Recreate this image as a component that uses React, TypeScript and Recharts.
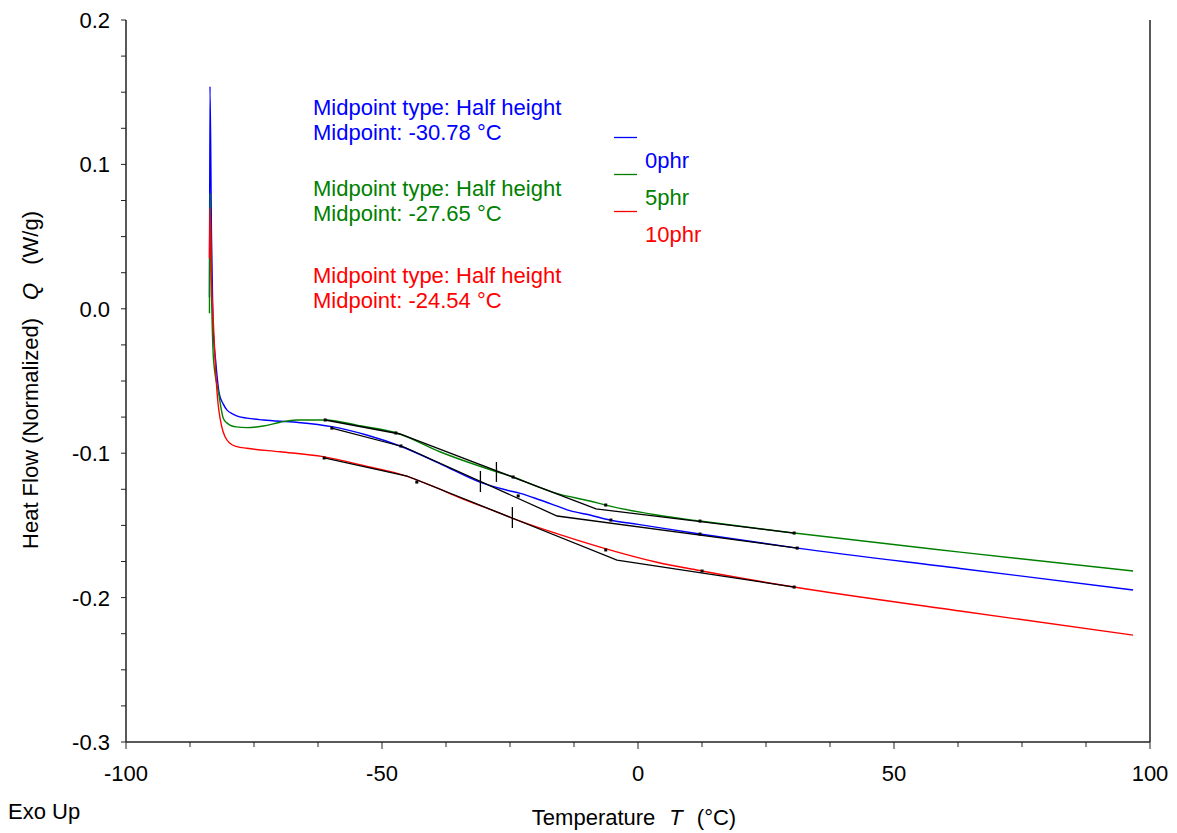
import React from "react";
import {ComposedChart, Label, Legend, Line, ReferenceLine, XAxis, YAxis} from "recharts";

// axis ticks
const X_MAJOR = [-100, -50, 0, 50, 100];
const X_MINOR = [-87.5, -75, -62.5, -37.5, -25, -12.5, 12.5, 25, 37.5, 62.5, 75, 87.5];
const Y_MAJOR = [-0.3, -0.2, -0.1, 0, 0.1, 0.2];
const Y_MINOR = [-0.275, -0.25, -0.225, -0.175, -0.15, -0.125, -0.075, -0.05, -0.025, 0.025, 0.05, 0.075, 0.125, 0.15, 0.175];

// DSC curves: temperature (°C) / heat flow (W/g)
const T_0PHR = [-83.7, -83.6, -83.3, -83.0, -82.5, -81.8, -81.0, -80.3, -79.2, -78.4, -76.4, -73.2, -66.7, -59.8, -53.0, -46.5, -38.5, -30.9, -25.7, -23.0, -19.1, -14.6, -13.3, -9.4, -5.5, 0, 12.1, 31.1, 62.9, 96.7];
const Q_0PHR = [0.008, 0.154, 0.05, -0.012, -0.0355, -0.0585, -0.066, -0.0700, -0.0728, -0.0742, -0.0757, -0.077, -0.0786, -0.0816, -0.0874, -0.095, -0.1075, -0.12, -0.1255, -0.1278, -0.1324, -0.1382, -0.1398, -0.1428, -0.1463, -0.1493, -0.156, -0.1657, -0.1798, -0.1947];

const T_5PHR = [-83.7, -83.6, -83.3, -82.9, -81.9, -81.0, -80.3, -79.7, -78.5, -76.4, -73.2, -69.9, -66.7, -61.1, -54.0, -47.1, -38.7, -27.5, -24.4, -20.5, -15.9, -9.4, -6.3, 3.7, 12.1, 30.5, 62.9, 96.7];
const Q_5PHR = [-0.003, 0.08, 0.011, -0.0355, -0.0585, -0.0758, -0.0790, -0.0805, -0.0818, -0.0823, -0.0812, -0.0786, -0.077, -0.077, -0.0812, -0.086, -0.099, -0.113, -0.1165, -0.122, -0.1278, -0.1331, -0.136, -0.1428, -0.147, -0.1553, -0.1685, -0.1816];

const T_10PHR = [-83.7, -83.6, -83.3, -82.9, -82.6, -82.2, -81.3, -80.6, -79.7, -78.3, -76.4, -69.9, -61.5, -53.1, -45.1, -40.0, -35.0, -27.0, -24.6, -16.0, -7.4, 3.7, 12.5, 30.5, 62.9, 96.7];
const Q_10PHR = [0.035, 0.07, 0.02, -0.0124, -0.0355, -0.0585, -0.0816, -0.0890, -0.0931, -0.0955, -0.0966, -0.099, -0.1024, -0.109, -0.1160, -0.1230, -0.1305, -0.1415, -0.1449, -0.1555, -0.1650, -0.1755, -0.1816, -0.1927, -0.2093, -0.226];

// glass transition construction lines (baseline / inflection tangent / baseline)
const TAN_T_0PHR = [-59.8, -45.7, -15.8, 31.1];
const TAN_Q_0PHR = [-0.0826, -0.0957, -0.1435, -0.1657];
const TAN_T_5PHR = [-61.1, -46.5, -8.2, 30.5];
const TAN_Q_5PHR = [-0.077, -0.0867, -0.1386, -0.1553];
const TAN_T_10PHR = [-61.3, -45.1, -4.1, 30.5];
const TAN_Q_10PHR = [-0.1033, -0.1158, -0.174, -0.1927];

// fit range markers
const MK_T_0PHR = [-59.8, -46.3, -23.4, -5.3, 12.1, 31.1];
const MK_Q_0PHR = [-0.0826, -0.095, -0.1296, -0.1463, -0.156, -0.1657];
const MK_T_5PHR = [-61.1, -47.3, -24.4, -6.3, 12.1, 30.5];
const MK_Q_5PHR = [-0.077, -0.086, -0.1165, -0.1359, -0.147, -0.1553];
const MK_T_10PHR = [-61.3, -43.2, -6.3, 12.5, 30.5];
const MK_Q_10PHR = [-0.1033, -0.12, -0.167, -0.1816, -0.1927];

// midpoints
const MID_T = [-30.78, -27.65, -24.54];
const MID_Q_TOP = [-0.1123, -0.1061, -0.1373];
const MID_Q_BOTTOM = [-0.1269, -0.1199, -0.1518];

const NAMES = ["0phr", "5phr", "10phr"];
const COLORS = ["#0000ff", "#008000", "#ff0000"];
const MIDPOINTS = ["-30.78", "-27.65", "-24.54"];

const zip = (ts: number[], qs: number[]) => ts.map((t, i) => ({t, q: qs[i]}));

const curves = [zip(T_0PHR, Q_0PHR), zip(T_5PHR, Q_5PHR), zip(T_10PHR, Q_10PHR)];
const tangents = [zip(TAN_T_0PHR, TAN_Q_0PHR), zip(TAN_T_5PHR, TAN_Q_5PHR), zip(TAN_T_10PHR, TAN_Q_10PHR)];
const markers = [zip(MK_T_0PHR, MK_Q_0PHR), zip(MK_T_5PHR, MK_Q_5PHR), zip(MK_T_10PHR, MK_Q_10PHR)];
const midTicks = MID_T.map((t, i) => [{t, q: MID_Q_TOP[i]}, {t, q: MID_Q_BOTTOM[i]}]);

const FONT = '"Liberation Sans", Arial, sans-serif';

const XTick = (props: any) => {
    const {x, y, payload} = props;
    const major = X_MAJOR.includes(payload.value);
    return (
        <g>
            <line x1={x} y1={y} x2={x} y2={y + (major ? 7 : 5)} stroke="#222"/>
            {major && (
                <text x={x} y={y + 39} textAnchor="middle" fontSize={22} fill="#000">{payload.value}</text>
            )}
        </g>
    );
};

const YTick = (props: any) => {
    const {x, y, payload} = props;
    const major = Y_MAJOR.some((v) => Math.abs(v - payload.value) < 1e-9);
    return (
        <g>
            <line x1={x - 5} y1={y} x2={x} y2={y} stroke="#222"/>
            {major && (
                <text x={x - 16} y={y + 8} textAnchor="end" fontSize={22} fill="#000">
                    {payload.value.toFixed(1)}
                </text>
            )}
        </g>
    );
};

const Dot = (props: any) => {
    const {cx, cy} = props;
    return <rect key={`${cx}-${cy}`} x={cx - 1.5} y={cy - 1.5} width={3} height={3} fill="#000"/>;
};

export default function App() {
    return (
        <div style={{position: "absolute", left: 0, top: 0, width: 1177, height: 833, background: "#fff", fontFamily: FONT}}>
            <ComposedChart width={1177} height={833} margin={{top: 20, right: 27, bottom: 51, left: 66}}>
                <XAxis
                    dataKey="t"
                    type="number"
                    domain={[-100, 100]}
                    ticks={[...X_MAJOR, ...X_MINOR].sort((a, b) => a - b)}
                    interval={0}
                    tick={<XTick/>}
                    tickLine={false}
                    tickSize={0}
                    tickMargin={0}
                    height={40}
                    axisLine={{stroke: "#222", strokeWidth: 1.5}}
                    allowDataOverflow
                >
                    <Label
                        content={({viewBox}: any) => (
                            <text x={viewBox.x + viewBox.width / 2 - 4} y={viewBox.y + 83} textAnchor="middle" fontSize={22} fill="#000">
                                Temperature<tspan dx={14} fontStyle="italic">T</tspan><tspan dx={14}>(°C)</tspan>
                            </text>
                        )}
                    />
                </XAxis>
                <YAxis
                    type="number"
                    domain={[-0.3, 0.2]}
                    ticks={[...Y_MAJOR, ...Y_MINOR].sort((a, b) => a - b)}
                    interval={0}
                    tick={<YTick/>}
                    tickLine={false}
                    tickSize={0}
                    tickMargin={0}
                    width={60}
                    axisLine={{stroke: "#222", strokeWidth: 1.5}}
                    allowDataOverflow
                >
                    <Label
                        content={({viewBox}: any) => {
                            const cx = viewBox.x - 36;
                            const cy = viewBox.y + viewBox.height / 2 - 1;
                            return (
                                <text x={cx} y={cy} transform={`rotate(-90, ${cx}, ${cy})`} textAnchor="middle"
                                      dominantBaseline="central" fontSize={22} fill="#000">
                                    Heat Flow (Normalized)<tspan dx={18} fontStyle="italic">Q</tspan><tspan dx={18}>(W/g)</tspan>
                                </text>
                            );
                        }}
                    />
                </YAxis>
                <ReferenceLine x={100} stroke="#222" strokeWidth={1.5}/>
                {curves.map((d, i) => (
                    <Line key={NAMES[i]} data={d} dataKey="q" name={NAMES[i]} stroke={COLORS[i]} strokeWidth={1.4}
                          dot={false} activeDot={false} isAnimationActive={false} type="monotone"/>
                ))}
                {tangents.map((d, i) => (
                    <Line key={`tan-${i}`} data={d} dataKey="q" stroke="#000" strokeWidth={1.3} dot={false}
                          activeDot={false} legendType="none" isAnimationActive={false}/>
                ))}
                {markers.map((d, i) => (
                    <Line key={`mk-${i}`} data={d} dataKey="q" stroke="none" dot={<Dot/>}
                          activeDot={false} legendType="none" isAnimationActive={false}/>
                ))}
                {midTicks.map((d, i) => (
                    <Line key={`mid-${i}`} data={d} dataKey="q" stroke="#000" strokeWidth={1.3} dot={false}
                          activeDot={false} legendType="none" isAnimationActive={false}/>
                ))}
                <Legend
                    verticalAlign="middle"
                    align="center"
                    wrapperStyle={{left: 614, top: 136, width: 120, height: 115}}
                    content={({payload}: any) => {
                        const items = (payload ?? [])
                            .filter((e: any) => NAMES.includes(e.value))
                            .sort((a: any, b: any) => NAMES.indexOf(a.value) - NAMES.indexOf(b.value));
                        return (
                            <div style={{fontFamily: FONT}}>
                                {items.map((entry: any, index: number) => {
                                    const color = COLORS[NAMES.indexOf(entry.value)];
                                    return (
                                        <div key={`item-${index}`} style={{position: "relative", height: 37}}>
                                            <svg width={24} height={3} style={{position: "absolute", left: 0, top: 0}}>
                                                <line x1={0} y1={1.5} x2={23} y2={1.5} stroke={color} strokeWidth={1.3}/>
                                            </svg>
                                            <span style={{position: "absolute", left: 31, top: 12, fontSize: 22, lineHeight: "25px", color}}>
                                                {entry.value}
                                            </span>
                                        </div>
                                    );
                                })}
                            </div>
                        );
                    }}
                />
            </ComposedChart>
            {NAMES.map((n, i) => (
                <div key={`note-${n}`} style={{position: "absolute", left: 313, top: [95, 176, 263][i], fontSize: 22, lineHeight: "25px", color: COLORS[i], whiteSpace: "nowrap"}}>
                    <div>Midpoint type: Half height</div>
                    <div>Midpoint: {MIDPOINTS[i]} °C</div>
                </div>
            ))}
            <div style={{position: "absolute", left: 8, top: 799, fontSize: 22, lineHeight: "25px", color: "#000"}}>Exo Up</div>
        </div>
    );
}
